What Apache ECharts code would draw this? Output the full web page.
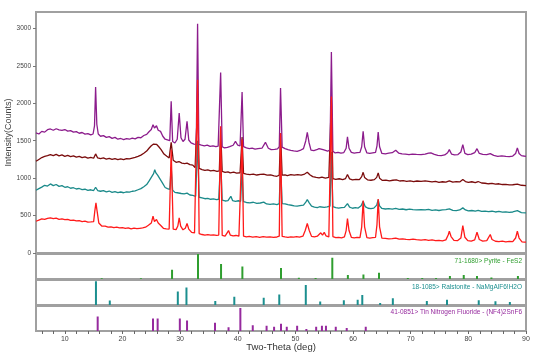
<!DOCTYPE html>
<html>
<head>
<meta charset="utf-8">
<script src="https://cdn.jsdelivr.net/npm/echarts@6/dist/echarts.min.js"></script>
<style>
  html, body { margin: 0; padding: 0; background: #fff; }
  #chart { width: 554px; height: 355px; }
</style>
</head>
<body>
<div id="chart"></div>
<script>
// measured scans [2theta, counts], top to bottom
const purpleScan = [[5,1604],[5.5,1590],[6,1625],[6.5,1615],[7,1648],[7.5,1657],[8,1640],[8.5,1660],[9,1645],[9.5,1638],[10,1650],[10.5,1628],[11,1635],[11.5,1615],[12,1622],[12.5,1600],[13,1610],[13.5,1588],[14,1595],[14.5,1578],[14.9,1590],[15.15,1700],[15.34,2218],[15.55,1720],[15.8,1590],[16.2,1560],[16.7,1568],[17.2,1545],[17.7,1555],[18.2,1532],[18.7,1545],[19.2,1520],[19.7,1530],[20.2,1515],[20.7,1528],[21.2,1520],[21.7,1535],[22.2,1525],[22.7,1545],[23.2,1540],[23.7,1570],[24.2,1585],[24.6,1620],[25,1650],[25.3,1715],[25.55,1670],[25.9,1700],[26.2,1640],[26.6,1625],[27,1560],[27.4,1520],[27.8,1510],[28.2,1500],[28.45,2026],[28.7,1490],[29.1,1470],[29.5,1520],[29.84,1871],[30.15,1540],[30.5,1490],[30.85,1520],[31.2,1759],[31.5,1510],[31.9,1470],[32.4,1455],[32.8,1450],[33.03,3063],[33.25,1450],[33.7,1440],[34.2,1432],[34.7,1440],[35.2,1425],[35.7,1432],[36.2,1420],[36.6,1428],[37.03,2413],[37.3,1420],[37.7,1404],[38.2,1412],[38.6,1420],[39.2,1440],[39.6,1492],[40,1440],[40.4,1430],[40.75,2151],[41,1420],[41.5,1404],[42,1395],[42.5,1400],[43,1388],[43.5,1395],[44.2,1400],[44.8,1479],[45.3,1400],[45.8,1381],[46.4,1385],[46.9,1390],[47.2,1420],[47.42,2205],[47.7,1415],[48.2,1395],[48.7,1380],[49.2,1372],[49.7,1365],[50.3,1359],[50.8,1370],[51.4,1395],[51.8,1500],[52.06,1612],[52.35,1480],[52.7,1375],[53.2,1368],[53.7,1380],[54.1,1395],[54.4,1417],[54.8,1380],[55.2,1370],[55.6,1360],[56,1380],[56.24,2685],[56.5,1360],[56.9,1337],[57.4,1345],[57.9,1335],[58.4,1342],[58.8,1400],[59.03,1551],[59.3,1400],[59.7,1345],[60.2,1335],[60.7,1340],[61.2,1345],[61.5,1420],[61.75,1626],[62,1420],[62.4,1337],[62.9,1330],[63.4,1338],[63.9,1345],[64.15,1430],[64.36,1617],[64.6,1420],[65,1330],[65.6,1325],[66.2,1335],[66.8,1340],[67.4,1372],[67.9,1335],[68.5,1325],[69.1,1320],[69.7,1314],[70.3,1322],[71,1318],[71.8,1314],[72.5,1320],[73.1,1335],[73.5,1337],[74.1,1318],[74.7,1305],[75.3,1301],[75.9,1310],[76.4,1340],[76.7,1381],[77.1,1320],[77.6,1310],[78.2,1315],[78.7,1350],[79.04,1448],[79.4,1330],[79.9,1314],[80.5,1320],[81.1,1340],[81.5,1394],[81.9,1330],[82.5,1318],[83.2,1315],[83.8,1328],[84.4,1305],[85.1,1292],[85.8,1298],[86.5,1290],[87.1,1288],[87.7,1295],[88.2,1330],[88.5,1404],[88.8,1330],[89.2,1301],[89.6,1296],[90,1292]];

const maroonScan = [[5,1225],[5.5,1250],[6,1275],[6.5,1290],[7,1300],[7.5,1314],[8,1302],[8.5,1318],[9,1298],[9.5,1310],[10,1292],[10.5,1305],[11,1288],[11.5,1298],[12,1282],[12.5,1292],[13,1275],[13.5,1285],[14,1268],[14.5,1278],[15,1266],[15.34,1324],[15.7,1270],[16.2,1260],[16.7,1270],[17.2,1255],[17.7,1265],[18.2,1250],[18.7,1262],[19.2,1248],[19.7,1258],[20.2,1248],[20.7,1262],[21.2,1257],[21.7,1268],[22.2,1278],[22.7,1292],[23.2,1308],[23.7,1332],[24.2,1362],[24.6,1400],[25,1432],[25.4,1455],[25.6,1470],[25.9,1452],[26.3,1420],[26.7,1382],[27.2,1322],[27.7,1292],[28.1,1270],[28.45,1480],[28.8,1240],[29.3,1212],[29.8,1222],[30.3,1200],[30.8,1195],[31.2,1200],[31.7,1180],[32.2,1175],[32.6,1140],[33.03,2000],[33.3,1130],[33.8,1114],[34.3,1105],[34.8,1112],[35.3,1098],[35.8,1104],[36.4,1092],[36.8,1098],[37.03,1650],[37.3,1090],[37.8,1078],[38.3,1085],[38.7,1070],[39.3,1080],[39.8,1068],[40.4,1072],[40.75,1550],[41,1065],[41.5,1055],[42.1,1048],[42.7,1055],[43.3,1042],[43.9,1050],[44.5,1055],[45.1,1040],[45.7,1045],[46.3,1030],[46.8,1025],[47.2,1040],[47.42,1600],[47.7,1040],[48.2,1045],[48.6,1034],[49.2,1048],[49.8,1040],[50.4,1048],[51,1040],[51.6,1055],[52.06,1078],[52.5,1045],[53,1020],[53.6,1010],[54.1,1004],[54.6,1015],[55.2,1000],[55.8,1010],[56.24,2050],[56.5,995],[57,985],[57.6,992],[58.2,981],[58.7,995],[59.03,1048],[59.4,990],[59.9,978],[60.5,985],[61.1,980],[61.5,1020],[61.75,1078],[62,1010],[62.5,978],[63.1,972],[63.7,980],[64.1,1010],[64.36,1070],[64.6,1000],[65.1,970],[65.7,975],[66.3,965],[66.9,972],[67.5,978],[68.1,962],[68.7,968],[69.3,958],[69.9,965],[70.5,955],[71.1,962],[71.8,958],[72.5,965],[73.1,958],[73.7,950],[74.3,958],[74.9,945],[75.5,952],[76.1,948],[76.7,965],[77.3,948],[77.9,955],[78.5,950],[79.04,981],[79.5,955],[80,945],[80.6,952],[81.2,940],[81.7,955],[82.3,935],[82.9,932],[83.5,925],[84.1,930],[84.7,920],[85.3,925],[85.9,915],[86.5,918],[87.1,910],[87.7,912],[88.5,920],[89.2,905],[90,901]];

const tealScan = [[5,838],[5.5,860],[6,880],[6.5,905],[7,895],[7.5,923],[8,900],[8.5,915],[9,890],[9.5,900],[10,878],[10.5,885],[11,865],[11.5,872],[12,855],[12.5,862],[13,847],[13.5,852],[14,838],[14.5,845],[15,835],[15.34,878],[15.7,835],[16.2,825],[16.7,832],[17.2,818],[17.7,828],[18.2,811],[18.7,820],[19.2,808],[19.7,815],[20.2,805],[20.7,818],[21.2,812],[21.7,825],[22.2,830],[22.7,845],[23.2,860],[23.7,885],[24.2,915],[24.6,960],[25,1010],[25.4,1060],[25.6,1114],[25.8,1070],[26.1,1040],[26.5,990],[26.9,940],[27.4,875],[27.8,860],[28.2,850],[28.45,1150],[28.7,840],[29.1,810],[29.5,805],[29.84,830],[30.2,795],[30.7,790],[31.2,800],[31.7,775],[32.2,770],[32.7,758],[33.03,1500],[33.3,745],[33.8,737],[34.3,725],[34.8,730],[35.3,718],[35.8,722],[36.3,714],[36.7,718],[37.03,1250],[37.3,705],[37.8,695],[38.3,700],[38.8,758],[39.1,700],[39.6,691],[40.1,698],[40.5,691],[40.75,1150],[41,685],[41.5,675],[42.1,670],[42.7,678],[43.3,662],[43.9,668],[44.5,680],[45,655],[45.6,650],[46.2,656],[46.8,647],[47.2,660],[47.42,1200],[47.7,660],[48.2,656],[48.7,645],[49.3,638],[49.8,630],[50.3,625],[50.8,632],[51.4,640],[51.8,680],[52.06,714],[52.4,670],[52.8,625],[53.3,612],[53.8,605],[54.2,618],[54.5,630],[55,610],[55.5,615],[56,625],[56.24,1350],[56.5,620],[57,605],[57.5,600],[58,606],[58.5,610],[59.03,660],[59.4,612],[59.9,598],[60.4,605],[60.9,600],[61.4,630],[61.75,691],[62.1,620],[62.6,598],[63.1,592],[63.6,600],[64.1,640],[64.36,714],[64.6,630],[65,595],[65.6,588],[66.2,592],[66.8,585],[67.4,595],[68,582],[68.6,588],[69.2,578],[69.8,585],[70.4,580],[71,576],[71.8,580],[72.5,575],[73.1,582],[73.7,570],[74.3,576],[74.9,568],[75.5,575],[76.1,580],[76.7,590],[77.3,570],[77.9,565],[78.5,575],[79.04,603],[79.5,575],[80,562],[80.6,568],[81.2,560],[81.7,570],[82.3,555],[82.9,560],[83.5,552],[84.1,558],[84.7,548],[85.3,555],[85.9,545],[86.5,550],[87.1,542],[87.7,548],[88.5,565],[89.2,540],[90,536]];

const redScan = [[5,424],[5.5,440],[6,455],[6.5,448],[7,462],[7.5,470],[8,458],[8.5,465],[9,450],[9.5,455],[10,445],[10.5,448],[11,435],[11.5,440],[12,428],[12.5,432],[13,420],[13.5,425],[14,412],[14.5,415],[15,420],[15.2,560],[15.4,670],[15.6,560],[15.9,400],[16.4,360],[17,358],[17.5,345],[18,350],[18.5,338],[19,345],[19.5,335],[20,340],[20.5,328],[21,335],[21.5,322],[22,331],[22.5,325],[23,330],[23.5,335],[24,345],[24.5,370],[25,400],[25.3,491],[25.55,420],[25.9,447],[26.2,400],[26.6,370],[27.1,330],[27.6,323],[28.1,320],[28.45,1380],[28.8,318],[29.3,312],[29.6,360],[29.84,470],[30.1,360],[30.5,310],[30.9,330],[31.2,394],[31.5,320],[32,275],[32.5,268],[32.8,270],[33.03,2315],[33.3,260],[33.8,247],[34.3,240],[34.8,245],[35.3,238],[35.8,242],[36.3,235],[36.7,240],[37.03,1692],[37.3,235],[37.8,225],[38.1,240],[38.4,300],[38.7,240],[39.2,228],[39.7,234],[40.2,225],[40.5,230],[40.75,1515],[41,225],[41.5,216],[42,222],[42.6,212],[43.2,220],[43.8,210],[44.4,218],[45,212],[45.6,215],[46.2,208],[46.8,214],[47.2,225],[47.42,1600],[47.7,222],[48.2,215],[48.7,210],[49.2,216],[49.7,212],[50.2,218],[50.7,212],[51.3,225],[51.7,300],[52.06,394],[52.4,300],[52.8,222],[53.3,215],[53.8,225],[54.1,240],[54.4,270],[54.7,240],[55,276],[55.3,230],[55.8,215],[56,230],[56.24,2092],[56.5,220],[57,205],[57.5,210],[58,203],[58.5,215],[58.8,300],[59.03,460],[59.3,300],[59.7,210],[60.2,203],[60.7,210],[61.2,205],[61.5,350],[61.75,700],[62,350],[62.4,205],[62.9,198],[63.4,205],[63.9,210],[64.15,380],[64.36,720],[64.6,350],[65,200],[65.6,195],[66.2,188],[66.8,192],[67.4,200],[68,185],[68.6,190],[69.2,182],[69.8,180],[70.4,186],[71,178],[71.8,171],[72.5,178],[73.1,170],[73.7,175],[74.3,165],[74.9,170],[75.5,162],[76.1,175],[76.5,240],[76.7,291],[77,220],[77.5,168],[78.1,165],[78.7,200],[79.04,367],[79.4,210],[79.9,165],[80.5,160],[81.1,175],[81.5,278],[81.9,180],[82.5,158],[83.2,165],[83.5,190],[83.8,247],[84.1,180],[84.7,157],[85.3,152],[85.9,158],[86.5,150],[87.1,155],[87.7,152],[88.2,200],[88.5,291],[88.8,200],[89.3,150],[89.7,146],[90,144]];

// reference patterns: position (deg) and relative intensity
const pyriteDeg = [16.4, 23.2, 28.6, 33.1, 37.1, 40.8, 47.5, 50.6, 53.5, 56.4, 59.1, 61.8, 64.5, 69.5, 72.0, 74.4, 76.8, 79.2, 81.5, 84.0, 88.6];
const pyriteInt = [3, 3, 37, 100, 60, 50, 44, 5, 4, 85, 16, 18, 25, 4, 4, 4, 12, 16, 12, 6, 12];
const ralstoniteDeg = [15.4, 17.8, 29.6, 31.1, 36.1, 39.4, 44.5, 47.2, 51.8, 54.3, 58.4, 60.8, 61.6, 64.7, 66.9, 72.8, 76.3, 81.8, 84.7, 87.2];
const ralstoniteInt = [95, 18, 54, 70, 16, 33, 29, 42, 80, 14, 19, 21, 40, 8, 27, 16, 21, 19, 15, 12];
const tinDeg = [15.7, 25.3, 26.1, 29.95, 31.2, 36.05, 38.4, 40.45, 42.6, 45.0, 46.3, 47.5, 48.5, 50.3, 51.9, 53.6, 54.6, 55.3, 57.0, 58.9, 62.2];
const tinInt = [58, 50, 50, 50, 42, 33, 15, 92, 23, 21, 17, 29, 17, 21, 8, 17, 21, 21, 17, 12, 17];

const yTicks = [0, 500, 1000, 1500, 2000, 2500, 3000];
const xLabels = [10, 20, 30, 40, 50, 60, 70, 80, 90];
const xMinorTicks = [6, 8, 10, 12, 14, 16, 18, 20, 22, 24, 26, 28, 30, 32, 34, 36, 38, 40, 42, 44, 46, 48, 50, 52, 54, 56, 58, 60, 62, 64, 66, 68, 70, 72, 74, 76, 78, 80, 82, 84, 86, 88, 90];

const cardLabels = [
  '71-1680> Pyrite - FeS2',
  '18-1085> Ralstonite - NaMgAlF6!H2O',
  '41-0851> Tin Nitrogen Fluoride - (NF4)2SnF6'
];
const cardColors = ['#2f9e2f', '#1b8f8f', '#962a9e'];

const font = 'Arial, "Liberation Sans", sans-serif';
const frame = '#a0a0a0';

const chart = echarts.init(document.getElementById('chart'));

const grids = [
  { left: 36, top: 12, width: 490, height: 241 },
  { left: 36, top: 254, width: 490, height: 25 },
  { left: 36, top: 280, width: 490, height: 25 },
  { left: 36, top: 306, width: 490, height: 25 }
].map(g => Object.assign(g, {
  show: true,
  borderColor: frame,
  borderWidth: 2,
  backgroundColor: '#fff',
  containLabel: false,
  outerBoundsMode: 'none'
}));

const xAxes = grids.map((g, i) => ({
  type: 'value',
  gridIndex: i,
  min: 5,
  max: 90,
  axisLine: { show: false },
  splitLine: { show: false },
  axisTick: i === 3 ? { show: true, customValues: xMinorTicks, length: 3, lineStyle: { color: '#666' } } : { show: false },
  axisLabel: i === 3 ? { show: true, customValues: xLabels, fontSize: 7, color: '#444', fontFamily: font, margin: 5, formatter: v => String(v) } : { show: false },
  name: i === 3 ? 'Two-Theta (deg)' : '',
  nameLocation: 'middle',
  nameGap: 11,
  nameMoveOverlap: false,
  nameTextStyle: { fontSize: 9.5, color: '#333', fontFamily: font }
}));

const yAxes = grids.map((g, i) => i === 0 ? {
  type: 'value',
  gridIndex: 0,
  min: 0,
  max: 3220,
  axisLine: { show: false },
  splitLine: { show: false },
  axisTick: { show: true, customValues: yTicks, length: 3, lineStyle: { color: '#777' } },
  axisLabel: { customValues: yTicks, fontSize: 6.5, color: '#444', fontFamily: font, margin: 5, formatter: v => String(v) },
  name: 'Intensity(Counts)',
  nameLocation: 'middle',
  nameRotate: 90,
  nameGap: 23,
  nameMoveOverlap: false,
  nameTextStyle: { fontSize: 9, color: '#444', fontFamily: font }
} : {
  type: 'value',
  gridIndex: i,
  min: 0,
  max: 100,
  show: false
});

function scanSeries(data, color) {
  return {
    type: 'line',
    xAxisIndex: 0,
    yAxisIndex: 0,
    data: data,
    showSymbol: false,
    lineStyle: { color: color, width: 1.3 },
    itemStyle: { color: color },
    silent: true,
    animation: false
  };
}

function renderStick(params, api) {
  const top = api.coord([api.value(0), api.value(1)]);
  const base = api.coord([api.value(0), 0]);
  return {
    type: 'rect',
    shape: { x: top[0] - 1, y: top[1], width: 2, height: base[1] - top[1] },
    style: { fill: api.visual('color') }
  };
}

function stickSeries(degs, ints, idx) {
  return {
    type: 'custom',
    xAxisIndex: idx,
    yAxisIndex: idx,
    data: degs.map((d, k) => [d, ints[k]]),
    renderItem: renderStick,
    itemStyle: { color: cardColors[idx - 1] },
    silent: true,
    animation: false
  };
}

const option = {
  backgroundColor: '#fff',
  animation: false,
  grid: grids,
  xAxis: xAxes,
  yAxis: yAxes,
  graphic: cardLabels.map((t, i) => ({
    type: 'text',
    x: 522,
    y: [261, 287, 312][i],
    style: { text: t, fill: cardColors[i], font: '6.5px ' + font, align: 'right', verticalAlign: 'middle' }
  })),
  series: [
    scanSeries(tealScan, '#1b8a8a'),
    scanSeries(maroonScan, '#7a0c0c'),
    scanSeries(purpleScan, '#8c1c8c'),
    scanSeries(redScan, '#ff1a1a'),
    stickSeries(pyriteDeg, pyriteInt, 1),
    stickSeries(ralstoniteDeg, ralstoniteInt, 2),
    stickSeries(tinDeg, tinInt, 3)
  ]
};

chart.setOption(option);
</script>
</body>
</html>
